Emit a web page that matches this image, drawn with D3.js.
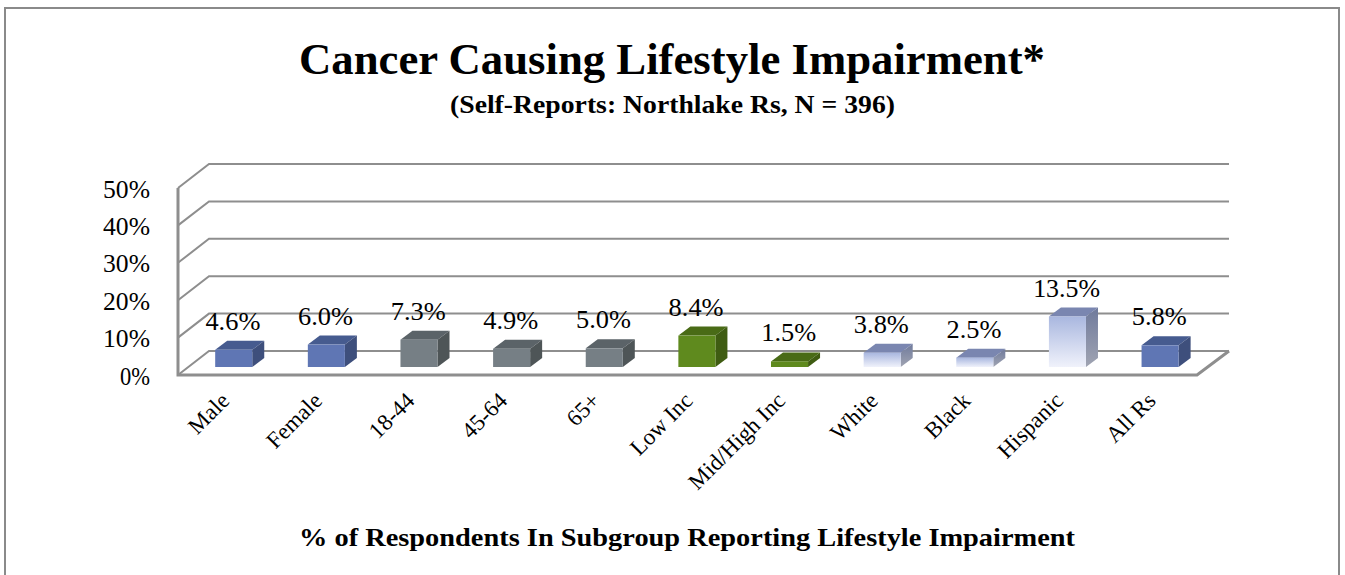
<!DOCTYPE html>
<html><head><meta charset="utf-8">
<script src="https://cdnjs.cloudflare.com/ajax/libs/d3/7.8.5/d3.min.js"></script>
<style>html,body{margin:0;padding:0;background:#fff;overflow:hidden}svg{display:block}text{font-family:"Liberation Serif",serif;fill:#000}</style>
</head><body><svg id="c" width="1345" height="575"></svg>
<script>
const categories=["Male","Female","18-44","45-64","65+","Low Inc","Mid/High Inc","White","Black","Hispanic","All Rs"];
const values=[4.6,6.0,7.3,4.9,5.0,8.4,1.5,3.8,2.5,13.5,5.8];
const groups=["sex","sex","age","age","age","income","income","race","race","race","all"];
const groupNames=["sex","age","income","race","all"];
const yTicks=[0,10,20,30,40,50];
const titleText="Cancer Causing Lifestyle Impairment*";
const subtitleText="(Self-Reports: Northlake Rs, N = 396)";
const footerText="% of Respondents In Subgroup Reporting Lifestyle Impairment";

const svg=d3.select("#c");
const defs=svg.append("defs");
const L=178,R=1197,B=375,T=188,dx=31,dy=24,bdx=12,bdy=9,barOff=9.4;
const x=d3.scaleBand().domain(categories).range([L,R]).paddingInner(0.6).paddingOuter(0.3);
const y=d3.scaleLinear().domain([0,50]).range([B,T]);
const grid="#8e8e8e";

const front=d3.scaleOrdinal().domain(groupNames).range(["#5f76b4","#767f85","#5f8a1e","url(#lf)","#5f76b4"]);
const top_=d3.scaleOrdinal().domain(groupNames).range(["#465b8f","#5b6368","#496b16","#7a86b0","#465b8f"]);
const side=d3.scaleOrdinal().domain(groupNames).range(["#3e4f7c","#4e5557","#3f5c12","url(#ls)","#3e4f7c"]);

function grad(id,c1,c2){const g=defs.append("linearGradient").attr("id",id).attr("x1",0).attr("y1",0).attr("x2",0).attr("y2",1);
 g.append("stop").attr("offset","0%").attr("stop-color",c1);g.append("stop").attr("offset","100%").attr("stop-color",c2);}
grad("lf","#a9b7df","#f0f2fb");grad("ls","#6f7a9c","#a0a4b2");

svg.append("rect").attr("x",5).attr("y",8).attr("width",1334).attr("height",600).attr("fill","#fff").attr("stroke","#8a8a8a").attr("stroke-width",2);

const line=d3.line();
const gridG=svg.append("g").attr("fill","none").attr("stroke",grid).attr("stroke-width",2);
yTicks.forEach(t=>{
 gridG.append("path").attr("d",line([[L,y(t)],[L+dx,y(t)-dy],[R+dx+1,y(t)-dy]]));
});
gridG.append("path").attr("d",line([[L,y(50)],[L,B],[R,B],[R+dx+1,B-dy]])).attr("stroke-width",3);

const yAxis=d3.axisLeft(y).tickValues(yTicks).tickSize(0).tickPadding(0).tickFormat(d=>d+"%");
const ya=svg.append("g").attr("transform","translate(150,0)").call(yAxis);
ya.select(".domain").remove();
ya.selectAll("text").attr("font-size",25.5).attr("font-family","Liberation Serif").attr("dy","0.36em").attr("textLength",47).attr("lengthAdjust","spacingAndGlyphs");
ya.selectAll("g.tick").filter(d=>d===0).select("text").attr("textLength",30);

const bars=svg.append("g").selectAll("g").data(categories).join("g");
const by=8;
const h=(i)=>y(0)-y(values[i]);
bars.each(function(c,i){
 const g=d3.select(this),x0=x(c)+barOff,w=x.bandwidth(),yb=B-by,yt=yb-h(i),gr=groups[i];
 g.append("path").attr("fill",top_(gr)).attr("d",line([[x0,yt],[x0+bdx,yt-bdy],[x0+w+bdx,yt-bdy],[x0+w,yt]])+"Z");
 g.append("path").attr("fill",side(gr)).attr("d",line([[x0+w,yt],[x0+w+bdx,yt-bdy],[x0+w+bdx,yb-bdy],[x0+w,yb]])+"Z");
 g.append("rect").attr("x",x0).attr("y",yt).attr("width",w).attr("height",yb-yt).attr("fill",front(gr));
 svg.append("text").attr("x",x0+w/2-0.8).attr("y",yt-20).attr("text-anchor","middle").attr("font-size",25.5).attr("textLength",values[i]>=10?67:55).attr("lengthAdjust","spacingAndGlyphs").text(values[i].toFixed(1)+"%");
 svg.append("text").attr("transform",`translate(${x0+w/2-3},${402}) rotate(-45)`).attr("text-anchor","end").attr("font-size",23).text(c);
});

svg.append("text").attr("x",672).attr("y",74).attr("text-anchor","middle").attr("font-size",45).attr("font-weight","bold").attr("textLength",746).attr("lengthAdjust","spacingAndGlyphs").text(titleText);
svg.append("text").attr("x",672.5).attr("y",113).attr("text-anchor","middle").attr("font-size",25).attr("font-weight","bold").attr("textLength",445).attr("lengthAdjust","spacingAndGlyphs").text(subtitleText);
svg.append("text").attr("x",687).attr("y",546).attr("text-anchor","middle").attr("font-size",25).attr("font-weight","bold").attr("textLength",776).attr("lengthAdjust","spacingAndGlyphs").text(footerText);
</script></body></html>
